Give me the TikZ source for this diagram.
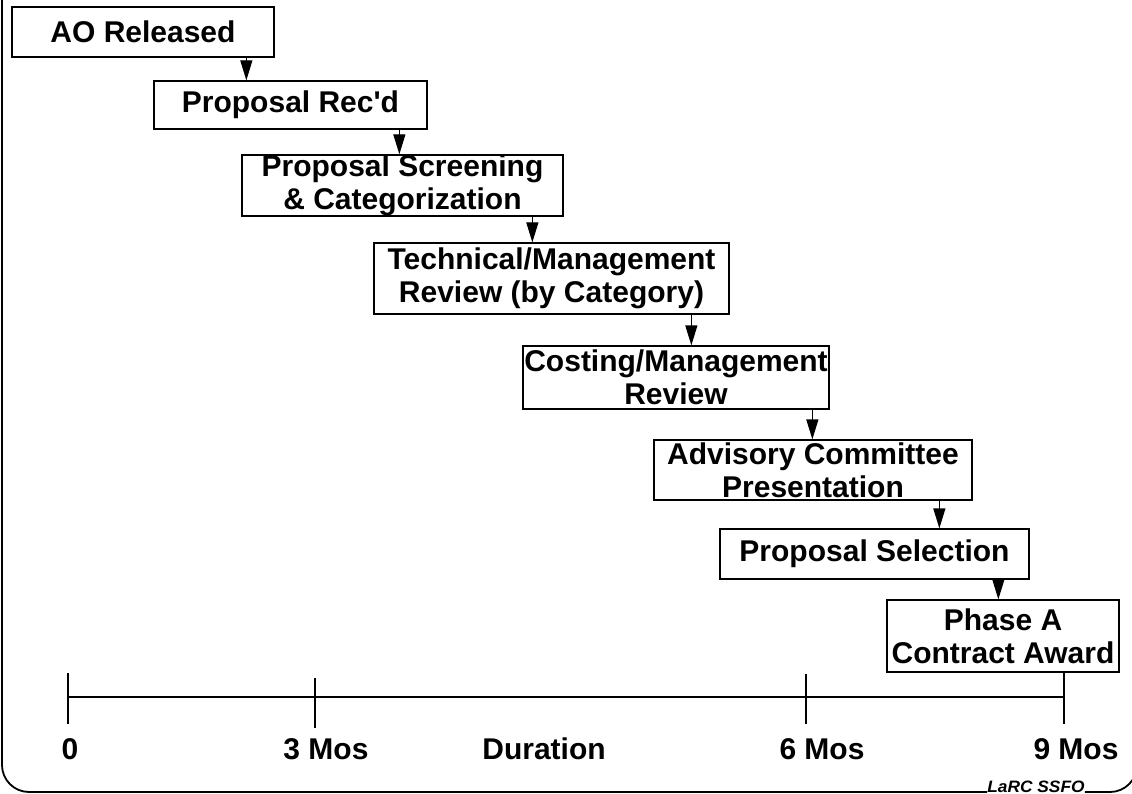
\documentclass[tikz,border=0pt]{standalone}
\usepackage{fontspec}
\setmainfont{Liberation Sans}
\usetikzlibrary{arrows.meta}
\begin{document}
\begin{tikzpicture}[x=1pt,y=1pt,
  box/.style={draw, line width=1.3pt, inner sep=0pt, align=center,
    font=\fontsize{30}{33}\selectfont\bfseries},
  arr/.style={line width=1.3pt, -{Triangle[length=20pt,width=12pt]}},
  lbl/.style={font=\fontsize{30}{32}\selectfont\bfseries, anchor=base, inner sep=0pt},
  tickline/.style={line width=1.3pt},
  frame/.style={line width=1.8pt}]
\useasboundingbox (0,0) rectangle (1132,-794);
\clip (0,0) rectangle (1132,-794);
% boxes
\node[box, minimum width=262pt, minimum height=50pt] (ao) at (143,-32) {AO Released};
\node[box, minimum width=273pt, minimum height=48pt] (rec) at (290.5,-105) {Proposal Rec\textquotesingle d};
\node[box, minimum width=321pt, minimum height=61pt] (scr) at (402.5,-185.5) {Proposal Screening\\\& Categorization};
\node[box, minimum width=355pt, minimum height=71pt] (tech) at (551.5,-278.5) {Technical/Management\\Review (by Category)};
\node[box, minimum width=306pt, minimum height=63pt] (cost) at (676,-377.5) {Costing/Management\\Review};
\node[box, minimum width=318pt, minimum height=60pt] (adv) at (813,-470) {Advisory Committee\\Presentation};
\node[box, minimum width=309pt, minimum height=50pt] (sel) at (874.5,-554) {Proposal Selection};
\node[box, minimum width=232pt, minimum height=72pt] (pha) at (1003,-636) {Phase A\\Contract Award};
% arrows
\draw[arr] ([xshift=235pt]ao.south west) -- ([xshift=235pt]ao.south west |- rec.north);
\draw[arr] ([xshift=246pt]rec.south west) -- ([xshift=246pt]rec.south west |- scr.north);
\draw[arr] ([xshift=291pt]scr.south west) -- ([xshift=291pt]scr.south west |- tech.north);
\draw[arr] ([xshift=318pt]tech.south west) -- ([xshift=318pt]tech.south west |- cost.north);
\draw[arr] ([xshift=290pt]cost.south west) -- ([xshift=290pt]cost.south west |- adv.north);
\draw[arr] ([xshift=286pt]adv.south west) -- ([xshift=286pt]adv.south west |- sel.north);
\draw[arr] ([xshift=279pt]sel.south west) -- ([xshift=279pt]sel.south west |- pha.north);
% timeline
\coordinate (t0) at (68,-697);
\coordinate (t3) at (315,-697);
\coordinate (t6) at (806,-697);
\coordinate (t9) at (1064,-697);
\draw[tickline] (t0) -- (t9);
\draw[tickline] ([yshift=24pt]t0) -- ([yshift=-27pt]t0);
\draw[tickline] ([yshift=19pt]t3) -- ([yshift=-31pt]t3);
\draw[tickline] ([yshift=23pt]t6) -- ([yshift=-27pt]t6);
\draw[tickline] (t9 |- pha.south) -- ([yshift=-27pt]t9);
\node[lbl] (l0) at (70,-759) {0};
\node[lbl] (l3) at (326,-759) {3 Mos};
\node[lbl] (ld) at (544,-759) {Duration};
\node[lbl] (l6) at (822,-759) {6 Mos};
\node[lbl] (l9) at (1076,-759) {9 Mos};
% frame
\node[anchor=base, inner sep=0pt, xscale=1.05, font=\fontsize{16.5}{17}\selectfont\bfseries\itshape] (larc) at (1036,-792) {LaRC SSFO};
\draw[frame] (2,10) -- (2,-765) arc[start angle=180, end angle=270, radius=27pt] -- (larc.base west);
\draw[frame] (larc.base east) -- (1110,-792) arc[start angle=270, end angle=360, radius=27pt] -- (1137,10);
\end{tikzpicture}
\end{document}
